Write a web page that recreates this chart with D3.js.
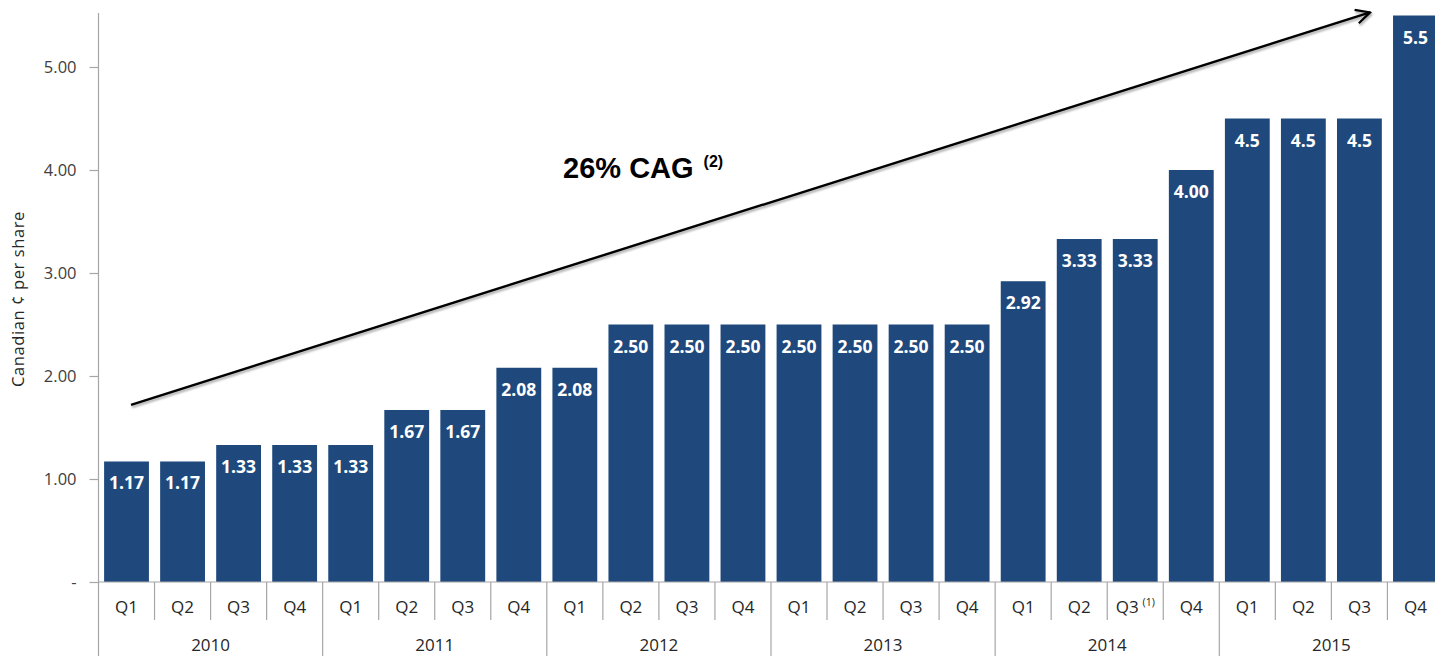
<!DOCTYPE html>
<html>
<head>
<meta charset="utf-8">
<script src="https://cdn.jsdelivr.net/npm/d3@7"></script>
<style>
  html, body { margin: 0; padding: 0; background: #fff; overflow: hidden; }
  svg { display: block; }
</style>
</head>
<body>
<svg id="chart" width="1435" height="656"></svg>
<script>
// Quarterly dividend per share, Canadian cents
const years = ["2010", "2011", "2012", "2013", "2014", "2015"];
const quarters = ["Q1", "Q2", "Q3", "Q4"];
const dividends = [1.17, 1.17, 1.33, 1.33, 1.33, 1.67, 1.67, 2.08,
                   2.08, 2.50, 2.50, 2.50, 2.50, 2.50, 2.50, 2.50,
                   2.92, 3.33, 3.33, 4.00, 4.5, 4.5, 4.5, 5.5];
const valueLabels = ["1.17", "1.17", "1.33", "1.33", "1.33", "1.67", "1.67", "2.08",
                     "2.08", "2.50", "2.50", "2.50", "2.50", "2.50", "2.50", "2.50",
                     "2.92", "3.33", "3.33", "4.00", "4.5", "4.5", "4.5", "5.5"];
const yTicks = [0, 1, 2, 3, 4, 5];
const yTickLabels = ["-", "1.00", "2.00", "3.00", "4.00", "5.00"];
const footnoteQuarter = { index: 18, note: "(1)" };
// Growth arrow endpoints, in (bar position, value) units
const trendFrom = [0.58, 1.72];
const trendTo = [22.69, 5.53];
const trendLabel = "26% CAG";
const trendNote = "(2)";

const svg = d3.select("#chart");
const left = 98.5, step = 56.04, baseY = 582;
const n = dividends.length;
const idx = d3.range(n);

const x = d3.scaleBand().domain(idx).range([left, left + n * step])
  .paddingInner(0.2).paddingOuter(0.1);
const xPos = d3.scaleLinear().domain([0, n]).range([left, left + n * step]);
const y = d3.scaleLinear().domain([0, 5]).range([baseY, 67]);

const axisColor = "#a6a6a6";
const textFont = "'Open Sans', 'Noto Sans', sans-serif";
const textColor = "#262626";

// Bars
svg.append("g").selectAll("rect").data(dividends).join("rect")
  .attr("x", (d, i) => x(i))
  .attr("y", d => y(d))
  .attr("width", x.bandwidth())
  .attr("height", d => baseY - y(d))
  .attr("fill", "#1f497d");

// Value labels inside bar tops
svg.append("g").selectAll("text").data(dividends).join("text")
  .attr("x", (d, i) => x(i) + x.bandwidth() / 2)
  .attr("y", d => y(d) + 28)
  .attr("text-anchor", "middle")
  .attr("fill", "#fff")
  .style("font-family", textFont)
  .style("font-weight", 700)
  .style("font-size", "17.5px")
  .text((d, i) => valueLabels[i]);

// Y axis
const yAxis = d3.axisLeft(y).tickValues(yTicks).tickSize(9)
  .tickFormat((d, i) => yTickLabels[i]);
const gy = svg.append("g").attr("transform", `translate(${left},0)`).call(yAxis);
gy.select(".domain").remove();
gy.selectAll(".tick line").attr("stroke", axisColor).attr("stroke-width", 1.2);
gy.selectAll(".tick text")
  .attr("x", -22)
  .attr("fill", "#404040")
  .style("font-family", textFont)
  .style("font-size", "16.5px");
svg.append("line")
  .attr("x1", left).attr("x2", left).attr("y1", 13).attr("y2", 656)
  .attr("stroke", axisColor).attr("stroke-width", 1.2);

// Baseline
svg.append("line")
  .attr("x1", left).attr("x2", 1435).attr("y1", baseY).attr("y2", baseY)
  .attr("stroke", axisColor).attr("stroke-width", 1.2);

// Category separators: short between quarters, long between years
svg.append("g").selectAll("line").data(d3.range(1, n)).join("line")
  .attr("x1", i => xPos(i)).attr("x2", i => xPos(i))
  .attr("y1", baseY)
  .attr("y2", i => (i % 4 === 0 ? 656 : 620))
  .attr("stroke", axisColor).attr("stroke-width", 1.2);

// Quarter labels
const qText = svg.append("g").selectAll("text").data(idx).join("text")
  .attr("x", i => xPos(i + 0.5))
  .attr("y", 613)
  .attr("text-anchor", "middle")
  .attr("fill", textColor)
  .style("font-family", textFont)
  .style("font-size", "17px")
  .text(i => quarters[i % 4]);
qText.filter(i => i === footnoteQuarter.index)
  .append("tspan")
  .attr("dx", 4).attr("dy", -7)
  .style("font-size", "10.5px")
  .text(footnoteQuarter.note);

// Year labels
svg.append("g").selectAll("text").data(years).join("text")
  .attr("x", (d, i) => xPos(i * 4 + 2))
  .attr("y", 651)
  .attr("text-anchor", "middle")
  .attr("fill", textColor)
  .style("font-family", textFont)
  .style("font-size", "17px")
  .text(d => d);

// Y axis title
svg.append("text")
  .attr("transform", "translate(24,299) rotate(-90)")
  .attr("text-anchor", "middle")
  .attr("fill", textColor)
  .style("font-family", textFont)
  .style("font-size", "16.5px")
  .style("letter-spacing", "0.6px")
  .text("Canadian \u00A2 per share");

// Growth arrow
const defs = svg.append("defs");
defs.append("marker")
  .attr("id", "arrowHead")
  .attr("viewBox", "0 0 12 12")
  .attr("refX", 11).attr("refY", 6)
  .attr("markerWidth", 7).attr("markerHeight", 7)
  .attr("markerUnits", "strokeWidth")
  .attr("orient", "auto")
  .append("path")
  .attr("d", "M1,1 L11,6 L1,11")
  .attr("fill", "none")
  .attr("stroke", "#000")
  .attr("stroke-width", 1.6)
  .attr("stroke-linejoin", "miter");
const shadow = defs.append("filter").attr("id", "softShadow")
  .attr("x", "-5%").attr("y", "-20%").attr("width", "110%").attr("height", "140%");
shadow.append("feDropShadow")
  .attr("dx", 1).attr("dy", 2).attr("stdDeviation", 1.2)
  .attr("flood-color", "#000").attr("flood-opacity", 0.35);

svg.append("line")
  .attr("x1", xPos(trendFrom[0])).attr("y1", y(trendFrom[1]))
  .attr("x2", xPos(trendTo[0])).attr("y2", y(trendTo[1]))
  .attr("stroke", "#000").attr("stroke-width", 2.4)
  .attr("marker-end", "url(#arrowHead)")
  .attr("filter", "url(#softShadow)");

// Growth annotation
const cag = svg.append("text")
  .attr("x", xPos(8.29)).attr("y", y(3.92))
  .attr("fill", "#000")
  .style("font-family", "Arial, 'Liberation Sans', sans-serif")
  .style("font-weight", 700)
  .style("font-size", "29px")
  .text(trendLabel);
cag.append("tspan")
  .attr("dx", 10).attr("dy", -11)
  .style("font-size", "16px")
  .text(trendNote);
</script>
</body>
</html>
